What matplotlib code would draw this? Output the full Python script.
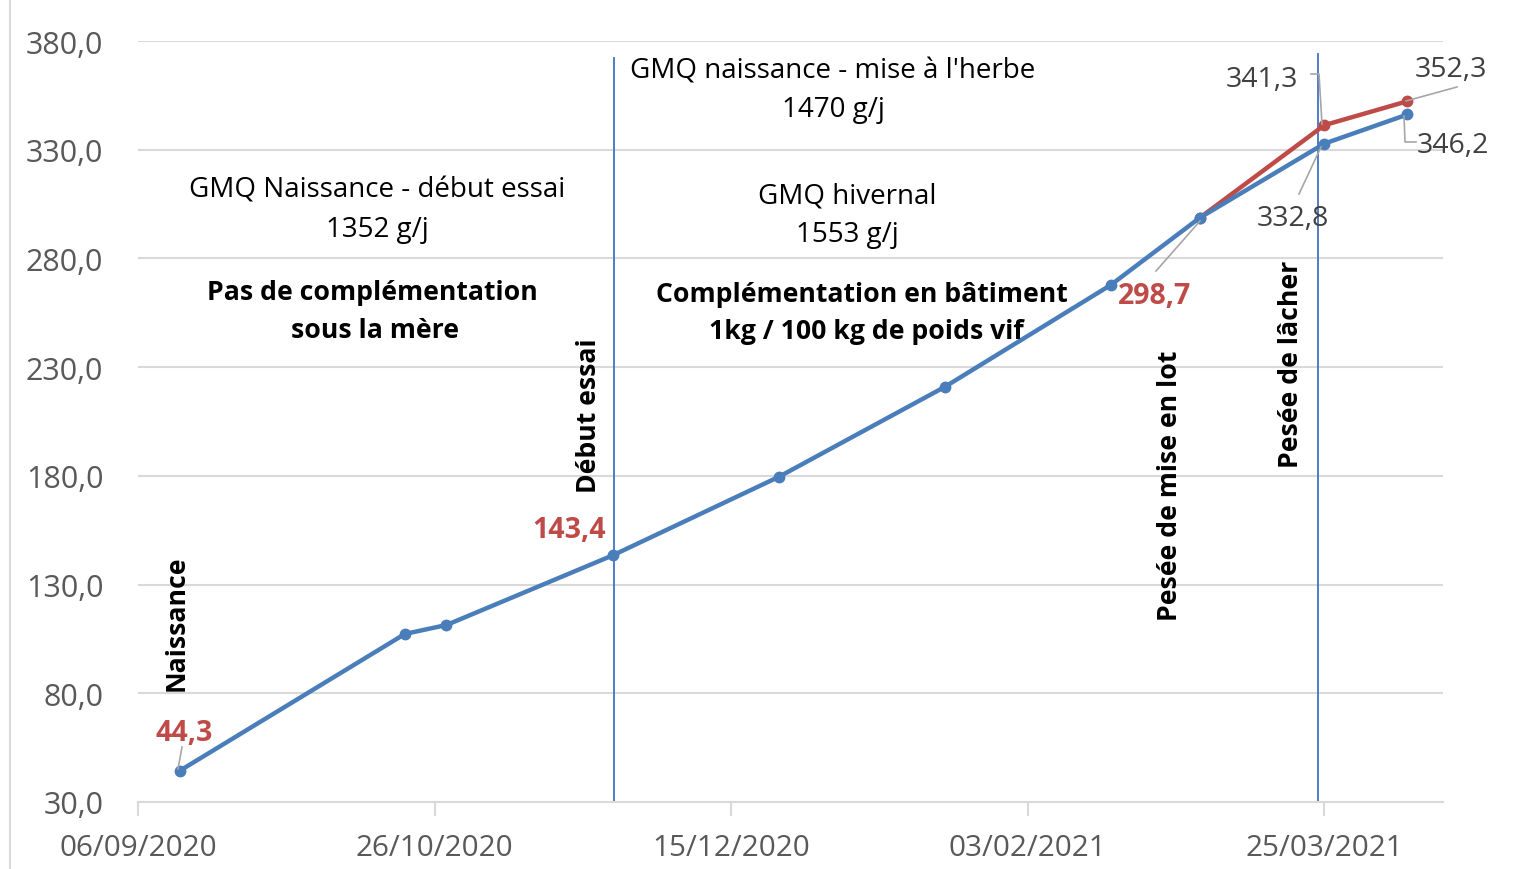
import datetime as dt
import matplotlib
matplotlib.use("Agg")
import matplotlib.pyplot as plt
import matplotlib.dates as mdates
from matplotlib.lines import Line2D
from matplotlib.patches import Rectangle
from matplotlib.ticker import FuncFormatter

plt.rcParams['font.family'] = ['Open Sans', 'DejaVu Sans']

# weights (kg) of the calf
dates_blue = ["2020-09-13", "2020-10-21", "2020-10-28", "2020-11-25", "2020-12-23",
              "2021-01-20", "2021-02-17", "2021-03-04", "2021-03-25", "2021-04-08"]
poids_blue = [44.3, 107.3, 111.4, 143.4, 179.5, 220.9, 267.8, 298.7, 332.8, 346.2]
dates_red = ["2021-03-04", "2021-03-25", "2021-04-08"]
poids_red = [298.7, 341.3, 352.3]

date_ticks = ["2020-09-06", "2020-10-26", "2020-12-15", "2021-02-03", "2021-03-25"]
y_ticks = [30, 80, 130, 180, 230, 280, 330, 380]

# vertical markers: Début essai, Pesée de lâcher
vline_dates = ["2020-11-25 06:00", "2021-03-24 00:00"]
vline_tops = [372, 374]

W, H = 1522, 870
BLUE = "#4A7EBB"
RED = "#BE4B48"
GRID = "#D9D9D9"


def d(s):
    return dt.datetime.fromisoformat(s)


def px(x, y):
    return x / W, 1 - y / H


fig = plt.figure(figsize=(W / 100, H / 100), dpi=100)
ax = fig.add_axes([138 / W, 1 - 803 / H, (1443 - 138) / W, (803 - 42) / H])

ax.set_xlim(d("2020-09-06"), d("2021-04-14"))
ax.set_ylim(30, 380)
ax.set_yticks(y_ticks)
ax.yaxis.set_major_formatter(FuncFormatter(lambda v, p: f"{v:.1f}".replace(".", ",")))
ax.set_xticks([d(s) for s in date_ticks])
ax.xaxis.set_major_formatter(mdates.DateFormatter("%d/%m/%Y"))

ax.grid(axis="y", color=GRID, lw=1.5)
ax.set_axisbelow(True)
for s in ["top", "right", "left"]:
    ax.spines[s].set_visible(False)
ax.spines["bottom"].set_color(GRID)
ax.spines["bottom"].set_linewidth(1.5)
ax.tick_params(axis="y", length=0, pad=25, labelsize=22, labelcolor="#595959")
ax.tick_params(axis="x", length=10, width=1.5, color=GRID, pad=12, labelsize=21.3,
               labelcolor="#595959")

for vd, top in zip(vline_dates, vline_tops):
    ax.plot([d(vd), d(vd)], [30, top], color="#4472C4", lw=1.3, zorder=2)

ax.plot([d(s) for s in dates_red], poids_red, color=RED, lw=3.2, marker="o", ms=7.5, zorder=3)
ax.plot([d(s) for s in dates_blue], poids_blue, color=BLUE, lw=3.2, marker="o", ms=7.5, zorder=4)

# outer chart frame
fig.add_artist(Rectangle(px(10, 1000), 2, 1 - 10 / H + 1000 / H - 1e-9,
                         transform=fig.transFigure, fill=False, ec=GRID, lw=1.5))


def txt(x, y, s, **kw):
    kw.setdefault("fontsize", 20)
    kw.setdefault("color", "black")
    fig.text(*px(x, y + 3), s, ha="center", va="center", **kw)


def leader(points):
    xs = [p[0] / W for p in points]
    ys = [1 - p[1] / H for p in points]
    fig.add_artist(Line2D(xs, ys, color="#A6A6A6", lw=1.2))


bold = dict(fontsize=19.2, fontweight="bold")

# block annotations
txt(377, 188, "GMQ Naissance - début essai")
txt(377, 227, "1352 g/j")
txt(372, 290, "Pas de complémentation", **bold)
txt(375, 328, "sous la mère", **bold)
txt(833, 69, "GMQ naissance - mise à l'herbe")
txt(833, 107, "1470 g/j")
txt(847, 193, "GMQ hivernal")
txt(847, 232, "1553 g/j")
txt(862, 292, "Complémentation en bâtiment", **bold)
txt(866, 329, "1kg / 100 kg de poids vif", **bold)

# vertical event labels
txt(177, 620, "Naissance", rotation=90, **bold)
txt(589, 413, "Début essai", rotation=90, **bold)
txt(1170, 483, "Pesée de mise en lot", rotation=90, **bold)
txt(1291, 361, "Pesée de lâcher", rotation=90, **bold)

# data labels
red_lbl = dict(fontsize=20.5, color=RED, fontweight="bold")
gray_lbl = dict(fontsize=20.5, color="#404040")
txt(184, 731, "44,3", **red_lbl)
leader([(182, 748), (178, 770)])
txt(569, 528, "143,4", **red_lbl)
txt(1155, 294, "298,7", **red_lbl)
leader([(1156, 272), (1200, 222)])
txt(1293, 216, "332,8", **gray_lbl)
leader([(1299, 195), (1321, 148)])
txt(1262, 77, "341,3", **gray_lbl)
leader([(1311, 75), (1319, 75), (1322, 125)])
txt(1451, 67, "352,3", **gray_lbl)
leader([(1457, 88), (1406, 102)])
txt(1453, 143, "346,2", **gray_lbl)
leader([(1404, 117), (1405, 143), (1416, 143)])

fig.savefig("out.png", dpi=100)
